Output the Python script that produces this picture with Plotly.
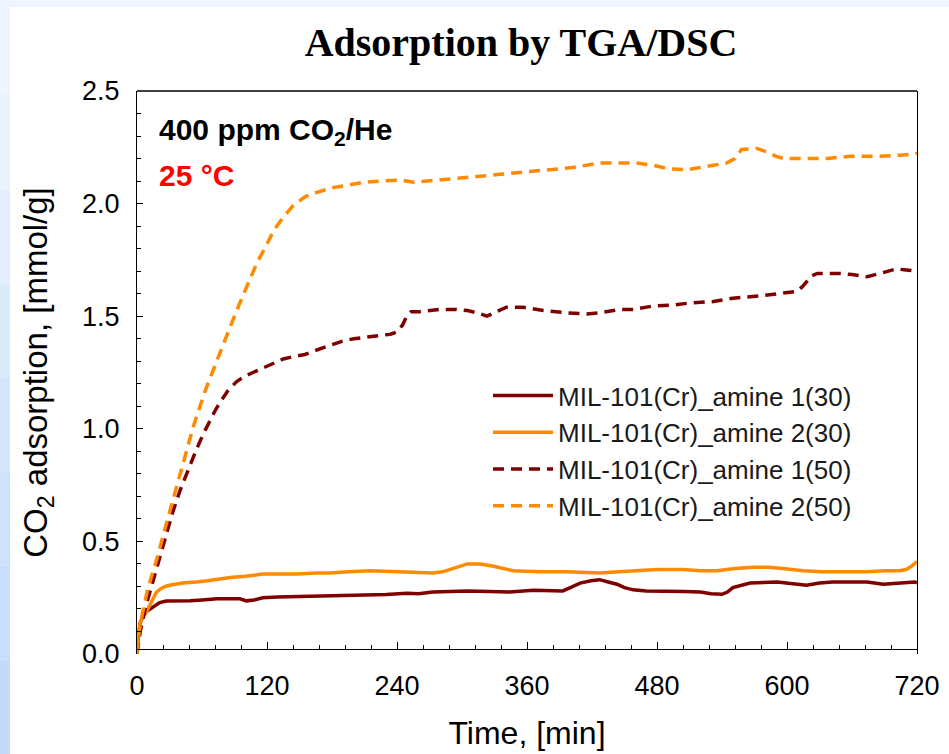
import plotly.graph_objects as go

# ---- CO2 uptake vs. time (400 ppm CO2/He, 25 °C) ----
t_a1_30 = [0, 1, 3, 6, 9, 12, 16, 21, 27, 33, 49, 60, 74, 95, 101, 108, 116, 130, 148, 178, 209,
           230, 249, 260, 273, 290, 305, 325, 344, 366, 380, 393, 400, 409, 419, 427, 435, 443,
           450, 458, 470, 489, 505, 520, 530, 540, 545, 550, 558, 566, 591, 605, 618, 630, 642,
           674, 689, 705, 718, 720]
y_a1_30 = [0, 0.07, 0.14, 0.17, 0.19, 0.20, 0.215, 0.228, 0.235, 0.235, 0.237, 0.24, 0.245, 0.245,
           0.236, 0.24, 0.25, 0.253, 0.255, 0.256, 0.26, 0.264, 0.27, 0.268, 0.275, 0.278, 0.28,
           0.277, 0.275, 0.283, 0.283, 0.28, 0.295, 0.315, 0.325, 0.33, 0.32, 0.31, 0.295, 0.285,
           0.28, 0.28, 0.278, 0.275, 0.268, 0.265, 0.275, 0.295, 0.305, 0.315, 0.32, 0.312, 0.305,
           0.315, 0.32, 0.32, 0.31, 0.315, 0.32, 0.315]

t_a2_30 = [0, 1, 3, 6, 9, 13, 18, 22, 26, 30, 42, 55, 65, 86, 100, 116, 132, 148, 165, 178, 195,
           215, 228, 240, 255, 273, 282, 289, 297, 305, 317, 329, 347, 372, 397, 427, 445, 458,
           480, 504, 520, 535, 552, 569, 583, 596, 615, 633, 655, 674, 690, 704, 710, 715, 720]
y_a2_30 = [0, 0.08, 0.14, 0.17, 0.19, 0.225, 0.275, 0.29, 0.30, 0.305, 0.315, 0.32, 0.325, 0.34,
           0.345, 0.355, 0.355, 0.355, 0.36, 0.36, 0.365, 0.37, 0.368, 0.365, 0.362, 0.36, 0.365,
           0.375, 0.39, 0.40, 0.40, 0.39, 0.37, 0.365, 0.365, 0.36, 0.365, 0.37, 0.375, 0.375,
           0.37, 0.37, 0.38, 0.385, 0.385, 0.38, 0.37, 0.365, 0.365, 0.365, 0.37, 0.37, 0.375,
           0.39, 0.41]

t_a1_50 = [0, 3, 8, 15, 20, 26, 33, 40, 48, 55, 61, 67, 72, 77, 84, 92, 100, 107, 116, 126, 135,
           144, 155, 166, 178, 190, 200, 209, 222, 234, 240, 245, 249, 253, 261, 280, 295, 305,
           314, 323, 332, 341, 356, 375, 397, 415, 427, 446, 458, 476, 495, 513, 532, 550, 575,
           593, 609, 614, 618, 623, 628, 649, 660, 674, 686, 701, 710, 720]
y_a1_50 = [0, 0.10, 0.21, 0.33, 0.42, 0.52, 0.63, 0.73, 0.83, 0.91, 0.975, 1.035, 1.08, 1.12, 1.17,
           1.21, 1.235, 1.25, 1.27, 1.29, 1.31, 1.32, 1.33, 1.35, 1.37, 1.39, 1.40, 1.405, 1.415,
           1.42, 1.43, 1.46, 1.50, 1.52, 1.52, 1.53, 1.53, 1.525, 1.515, 1.50, 1.52, 1.54, 1.54,
           1.525, 1.515, 1.51, 1.515, 1.53, 1.53, 1.545, 1.55, 1.56, 1.565, 1.58, 1.59, 1.60,
           1.61, 1.63, 1.65, 1.68, 1.69, 1.69, 1.685, 1.675, 1.69, 1.71, 1.705, 1.70]

t_a2_50 = [0, 2, 5, 10, 15, 20, 26, 37, 47, 52, 63, 74, 85, 95, 104, 111, 119, 126, 135, 144, 155,
           166, 180, 194, 210, 224, 243, 255, 268, 289, 314, 335, 360, 381, 402, 427, 443, 461,
           477, 490, 507, 520, 529, 544, 552, 558, 572, 581, 590, 597, 618, 637, 658, 686, 705,
           718, 720]
y_a2_50 = [0, 0.10, 0.18, 0.29, 0.37, 0.45, 0.56, 0.75, 0.93, 1.01, 1.17, 1.30, 1.44, 1.56, 1.66,
           1.74, 1.81, 1.88, 1.94, 1.99, 2.03, 2.05, 2.07, 2.08, 2.095, 2.10, 2.105, 2.095, 2.10,
           2.11, 2.12, 2.13, 2.14, 2.15, 2.16, 2.18, 2.18, 2.18, 2.17, 2.155, 2.15, 2.16, 2.17,
           2.18, 2.20, 2.24, 2.245, 2.23, 2.21, 2.20, 2.20, 2.20, 2.21, 2.21, 2.215, 2.22, 2.225]

series = [
    ("MIL-101(Cr)_amine 1(30)", t_a1_30, y_a1_30, "#7f0000", "solid"),
    ("MIL-101(Cr)_amine 2(30)", t_a2_30, y_a2_30, "#ff8a00", "solid"),
    ("MIL-101(Cr)_amine 1(50)", t_a1_50, y_a1_50, "#7f0000", "11px,7px"),
    ("MIL-101(Cr)_amine 2(50)", t_a2_50, y_a2_50, "#ff8a00", "11px,7px"),
]

x_ticks = [0, 120, 240, 360, 480, 600, 720]
y_ticks = [0.0, 0.5, 1.0, 1.5, 2.0, 2.5]

W, H = 949, 754
ML, MR, MT, MB = 137, 32, 91, 100
PW, PH = W - ML - MR, H - MT - MB


def px_x(px):
    return (px - ML) / PW


def px_y(py):
    return (H - MB - py) / PH


fig = go.Figure()
for name, t, y, color, dash in series:
    fig.add_trace(go.Scatter(x=t, y=y, mode="lines", name=name,
                             line=dict(color=color, width=3.5, dash=dash)))

sans = "Liberation Sans, Arial, sans-serif"

# slide-style pale blue border on the left and top edges
shapes = []
left_cols = ["#f0f6fe", "#eaf3fd", "#e3effd", "#dcebfc", "#d5e6fb", "#cee2fa", "#c8defa", "#c3dbf9"]
n = len(left_cols)
for i, c in enumerate(left_cols):
    shapes.append(dict(type="rect", xref="paper", yref="paper", layer="below",
                       x0=px_x(0), x1=px_x(10),
                       y0=px_y(H * (i + 1) / n), y1=px_y(H * i / n),
                       fillcolor=c, line=dict(width=0)))
shapes.append(dict(type="rect", xref="paper", yref="paper", layer="below",
                   x0=px_x(0), x1=px_x(W), y0=px_y(7), y1=px_y(0),
                   fillcolor="#eef5fe", line=dict(width=0)))
# top frame line
shapes.append(dict(type="line", xref="paper", yref="paper", x0=0, x1=1, y0=1, y1=1,
                   line=dict(color="black", width=1.3)))

fig.update_layout(
    width=W, height=H,
    margin=dict(l=ML, r=MR, t=MT, b=MB, autoexpand=False),
    paper_bgcolor="white", plot_bgcolor="white",
    title=dict(text="<b>Adsorption by TGA/DSC</b>", xref="container", yref="container",
               x=521 / W, y=1 - 42 / H, xanchor="center", yanchor="middle",
               font=dict(family="Liberation Serif, Times New Roman, serif", size=40, color="black")),
    shapes=shapes,
    showlegend=True,
    legend=dict(x=px_x(488), y=px_y(372), xanchor="left", yanchor="top",
                bgcolor="rgba(0,0,0,0)", itemwidth=60,
                font=dict(family=sans, size=26, color="#1a1a1a")),
    annotations=[
        dict(text="<b>400 ppm CO<sub>2</sub>/He</b>", xref="paper", yref="paper",
             x=px_x(157), y=px_y(131), xanchor="left", yanchor="middle", showarrow=False,
             font=dict(family=sans, size=30, color="black")),
        dict(text="<b>25 °C</b>", xref="paper", yref="paper",
             x=px_x(157), y=px_y(175), xanchor="left", yanchor="middle", showarrow=False,
             font=dict(family=sans, size=30, color="#ff0000")),
    ],
)

fig.update_xaxes(
    range=[0, 720], tickvals=x_ticks, ticktext=[str(v) for v in x_ticks],
    anchor="free", position=0.022 / 2.5,
    showline=True, linecolor="black", linewidth=1.3, showgrid=False, zeroline=False,
    ticks="inside", ticklen=7, tickwidth=1.2, tickcolor="black", ticklabelstandoff=12,
    minor=dict(dtick=24, ticks="inside", ticklen=4, tickwidth=1, tickcolor="black", showgrid=False),
    tickfont=dict(family=sans, size=27, color="black"),
    title=dict(text="Time, [min]", standoff=22, font=dict(family=sans, size=32, color="black")),
)
fig.update_yaxes(
    range=[0, 2.5], tickvals=y_ticks, ticktext=[f"{v:.1f}" for v in y_ticks],
    showline=True, mirror=True, linecolor="black", linewidth=1.3, showgrid=False, zeroline=False,
    ticks="inside", ticklen=6, tickwidth=1.2, tickcolor="black", ticklabelstandoff=11,
    minor=dict(dtick=0.1, ticks="inside", ticklen=4, tickwidth=1, tickcolor="black", showgrid=False),
    tickfont=dict(family=sans, size=27, color="black"),
    title=dict(text="CO<sub>2</sub> adsorption, [mmol/g]", standoff=24,
               font=dict(family=sans, size=33, color="black")),
)

fig.write_html("out.html")
